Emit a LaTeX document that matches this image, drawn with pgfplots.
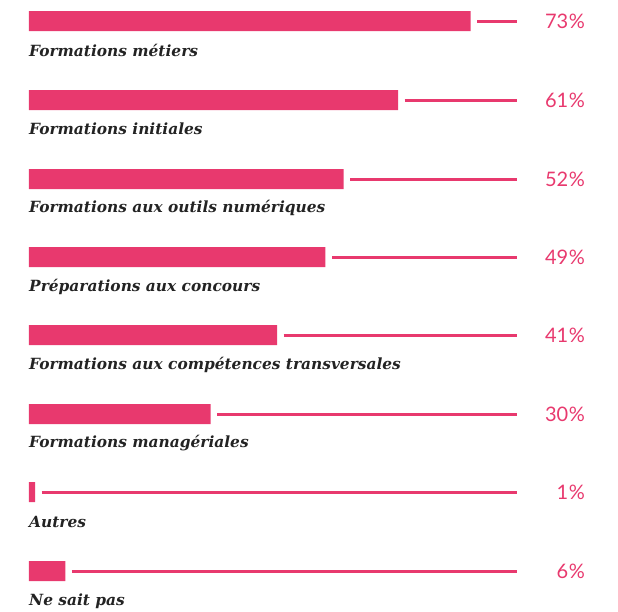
\documentclass[border=0pt]{standalone}
\usepackage{pgfplots}
\pgfplotsset{compat=1.18}
\usepackage{fontspec}
\setmainfont{Lato}
\newfontfamily\labfont{DejaVu Serif}
\definecolor{pk}{RGB}{232,57,110}
\definecolor{tx}{RGB}{35,35,35}
\tikzset{pct/.style={anchor=east, text=pk, font=\fontsize{20}{24}\selectfont, inner sep=0pt},
lab/.style={anchor=west, text=tx, inner sep=0pt, font=\labfont\bfseries\itshape\fontsize{15.4}{18}\selectfont}}
\pgfplotsset{ln/.style={draw=pk, line width=3pt, mark=none}}
\newcommand{\pc}{\kern0.5pt\%}
\begin{document}
\begin{tikzpicture}
\begin{axis}[
  scale only axis, width=618pt, height=611pt,
  xmin=-4.793, xmax=97.355, ymin=0, ymax=611, y dir=reverse,
  axis lines=none, clip=false,
]
\path (rel axis cs:0,0) rectangle (rel axis cs:1,1);
\addplot[xbar, bar width=20, fill=pk, draw=none, bar shift=0pt] coordinates {
(73,21) (61,100) (52,179) (49,257) (41,335) (30,414) (1,492) (6,571)};
\addplot[ln] coordinates {(74.1,21) (80.7,21)};
\addplot[ln] coordinates {(62.1,100) (80.7,100)};
\addplot[ln] coordinates {(53.1,179) (80.7,179)};
\addplot[ln] coordinates {(50.1,257) (80.7,257)};
\addplot[ln] coordinates {(42.1,335) (80.7,335)};
\addplot[ln] coordinates {(31.1,414) (80.7,414)};
\addplot[ln] coordinates {(2.1,492) (80.7,492)};
\addplot[ln] coordinates {(7.1,571) (80.7,571)};
\node[pct] at (axis cs:91.9,21) {73\pc};
\node[pct] at (axis cs:91.9,100) {61\pc};
\node[pct] at (axis cs:91.9,179) {52\pc};
\node[pct] at (axis cs:91.9,257) {49\pc};
\node[pct] at (axis cs:91.9,335) {41\pc};
\node[pct] at (axis cs:91.9,414) {30\pc};
\node[pct] at (axis cs:91.9,492) {1\pc};
\node[pct] at (axis cs:91.9,571) {6\pc};
\node[lab] at (axis cs:0,50) {Formations métiers};
\node[lab] at (axis cs:0,129) {Formations initiales};
\node[lab] at (axis cs:0,208) {Formations aux outils numériques};
\node[lab] at (axis cs:0,287) {Préparations aux concours};
\node[lab] at (axis cs:0,365) {Formations aux compétences transversales};
\node[lab] at (axis cs:0,443) {Formations managériales};
\node[lab] at (axis cs:0,522) {Autres};
\node[lab] at (axis cs:0,601) {Ne sait pas};
\end{axis}
\end{tikzpicture}
\end{document}
